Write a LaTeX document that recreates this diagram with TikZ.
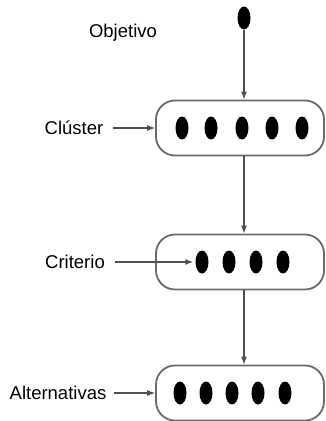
\documentclass[tikz,border=0pt]{standalone}
\usepackage{fontspec}
\setmainfont{Liberation Sans}
\usetikzlibrary{shapes.geometric, arrows.meta}

\definecolor{borde}{HTML}{6A6A6A}
\definecolor{linea}{HTML}{505050}

\begin{document}
\begin{tikzpicture}[
		x=1pt, y=-1pt,
		punto/.style={ellipse, fill=black, inner sep=0pt, minimum width=13pt, minimum height=23pt},
		nivel/.style={draw=borde, line width=1.8pt, rounded corners=19pt, minimum width=168pt, minimum height=55pt},
		etiqueta/.style={font=\fontsize{18.5}{20}\selectfont, inner sep=0pt},
		flecha/.style={-{Latex[length=8pt, width=6pt]}, draw=linea, line width=1.2pt}
	]
	\useasboundingbox (0, 0) rectangle (326, 421);

	% objetivo
	\node[punto] (obj) at (244, 18) {};
	\node[etiqueta] (lobj) at (123, 33) {Objetivo};

	% niveles
	\node[nivel] (cluster) at (240, 128) {};
	\node[nivel] (criterio) at (240, 262) {};
	\node[nivel] (alternativas) at (240, 393) {};

	\foreach \x [count=\i] in {182, 211, 242, 272, 302}
		\node[punto] (c\i) at (\x, 128) {};
	\foreach \x [count=\i] in {202, 229, 256, 283}
		\node[punto] (k\i) at (\x, 262) {};
	\foreach \x [count=\i] in {180, 206, 232, 258, 285}
		\node[punto] (a\i) at (\x, 393) {};

	\node[etiqueta] (lcluster) at (74, 128) {Clúster};
	\node[etiqueta] (lcriterio) at (75, 262) {Criterio};
	\node[etiqueta] (lalternativas) at (58, 393) {Alternativas};

	% conexiones
	\draw[flecha] (obj) -- (obj |- cluster.north);
	\draw[flecha] (cluster.south -| obj) -- (criterio.north -| obj);
	\draw[flecha] (criterio.south -| obj) -- (alternativas.north -| obj);

	\draw[flecha, shorten <=10pt] (lcluster) -- (cluster);
	\draw[flecha, shorten <=10pt, shorten >=2pt] (lcriterio) -- (k1);
	\draw[flecha, shorten <=7pt] (lalternativas) -- (alternativas);
\end{tikzpicture}
\end{document}
